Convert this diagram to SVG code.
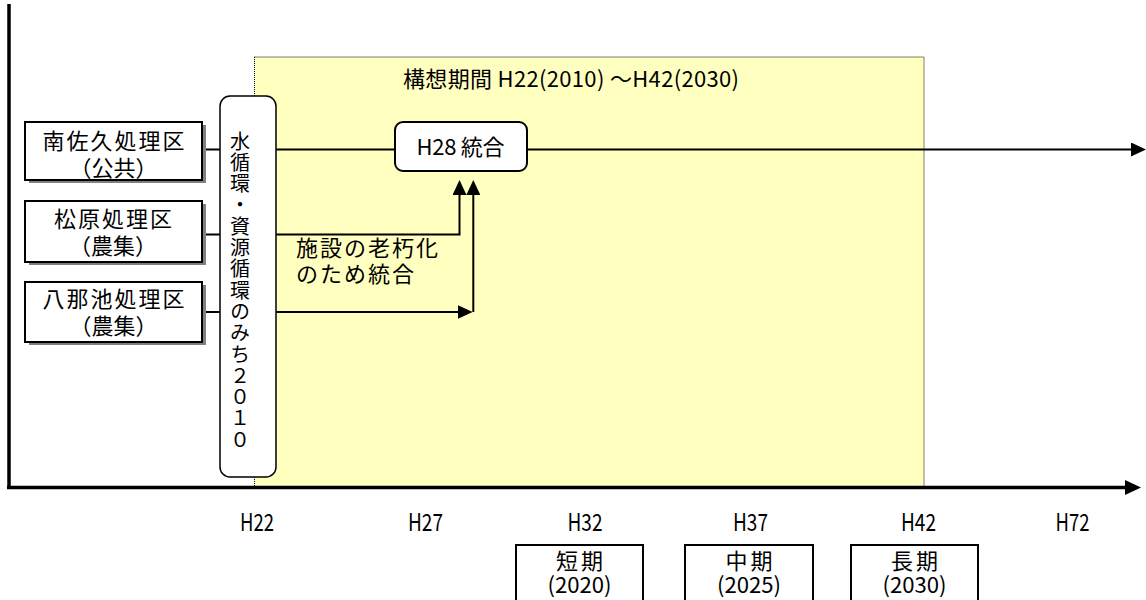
<svg xmlns="http://www.w3.org/2000/svg" width="1146" height="600" viewBox="0 0 1146 600">
<style>
.t{font-family:"Noto Sans CJK JP","Noto Sans",sans-serif;fill:#000}
.box{fill:#fff;stroke:#000;stroke-width:2}
.sh{fill:#808080}
.ln{fill:none;stroke:#000;stroke-width:2}
.big{font-size:22px}
.lab{font-size:24px}
</style>
<defs>
<marker id="ah" markerUnits="userSpaceOnUse" viewBox="0 0 15 14" markerWidth="15" markerHeight="14" refX="9" refY="7" orient="auto"><path d="M0,0 L15,7 L0,14 Z" fill="#000"/></marker>
<marker id="ax" markerUnits="userSpaceOnUse" viewBox="0 0 16 15" markerWidth="16" markerHeight="15" refX="10" refY="7.5" orient="auto"><path d="M0,0 L16,7.5 L0,15 Z" fill="#000"/></marker>
</defs>
<rect width="1146" height="600" fill="#fff"/>
<g id="period">
<rect x="254.5" y="57" width="669.5" height="430" fill="#FFFFC0" stroke="#000" stroke-width="1" stroke-dasharray="1 1"/>
<text class="t big" x="403" y="87" textLength="336">構想期間 H22(2010) ～H42(2030)</text>
</g>
<g id="connectors">
<line x1="9" y1="4" x2="9" y2="489" stroke="#000" stroke-width="3.5"/>
<line x1="7" y1="487.5" x2="1135" y2="487.5" stroke="#000" stroke-width="3.5" marker-end="url(#ax)"/>
<line class="ln" x1="202" y1="149.5" x2="220" y2="149.5"/>
<line class="ln" x1="202" y1="234.5" x2="220" y2="234.5"/>
<line class="ln" x1="202" y1="312" x2="220" y2="312"/>
<line class="ln" x1="276" y1="149.5" x2="395" y2="149.5"/>
<line class="ln" x1="527" y1="149.5" x2="1140" y2="149.5" marker-end="url(#ah)"/>
<path class="ln" d="M276,234.5 H459.5 V186" marker-end="url(#ah)"/>
<path class="ln" d="M276,312 H466.7" marker-end="url(#ah)"/>
<path class="ln" d="M473.3,312 V186" marker-end="url(#ah)"/>
</g>
<g id="minamisaku">
<rect class="sh" x="29" y="125" width="177" height="58"/>
<rect class="box" x="25" y="122" width="177" height="58"/>
<text class="t big" text-anchor="middle"><tspan x="113.5" y="148.5" textLength="142">南佐久処理区</tspan><tspan x="113.5" y="175.5">（公共）</tspan></text>
</g>
<g id="matsubara">
<rect class="sh" x="29" y="204" width="177" height="61"/>
<rect class="box" x="25" y="201" width="177" height="61"/>
<text class="t big" text-anchor="middle"><tspan x="113" y="227" textLength="118">松原処理区</tspan><tspan x="113" y="253.5">（農集）</tspan></text>
</g>
<g id="yachiike">
<rect class="sh" x="29" y="285" width="177" height="60"/>
<rect class="box" x="25" y="282" width="177" height="60"/>
<text class="t big" text-anchor="middle"><tspan x="113.5" y="306.5" textLength="142">八那池処理区</tspan><tspan x="113.5" y="333.5">（農集）</tspan></text>
</g>
<g id="plan2010">
<rect x="220" y="96" width="56" height="381" rx="10" fill="#fff" stroke="#000" stroke-width="1.5"/>
<text class="t" font-size="20" x="240" y="131" writing-mode="vertical-rl" letter-spacing="1.3">水循環・資源循環のみち２０１０</text>
</g>
<g id="h28">
<rect x="395" y="122" width="132" height="49" rx="8" fill="#fff" stroke="#000" stroke-width="2"/>
<text class="t big" x="460.5" y="155" text-anchor="middle" textLength="88">H28 統合</text>
</g>
<g id="note">
<text class="t big"><tspan x="296" y="255.5" textLength="142">施設の老朽化</tspan><tspan x="296" y="281.5" textLength="118">のため統合</tspan></text>
</g>
<g id="ticks">
<text class="t lab" x="257" y="531" text-anchor="middle" textLength="34" lengthAdjust="spacingAndGlyphs">H22</text>
<text class="t lab" x="425.5" y="531" text-anchor="middle" textLength="35" lengthAdjust="spacingAndGlyphs">H27</text>
<text class="t lab" x="585" y="531" text-anchor="middle" textLength="35" lengthAdjust="spacingAndGlyphs">H32</text>
<text class="t lab" x="750.5" y="531" text-anchor="middle" textLength="35" lengthAdjust="spacingAndGlyphs">H37</text>
<text class="t lab" x="918.5" y="531" text-anchor="middle" textLength="35" lengthAdjust="spacingAndGlyphs">H42</text>
<text class="t lab" x="1072.5" y="531" text-anchor="middle" textLength="34" lengthAdjust="spacingAndGlyphs">H72</text>
</g>
<g id="short">
<rect class="box" x="516" y="545" width="127" height="70"/>
<text class="t big" text-anchor="middle"><tspan x="579.5" y="568.5" textLength="47">短期</tspan><tspan x="579.5" y="593" textLength="64" lengthAdjust="spacingAndGlyphs">(2020)</tspan></text>
</g>
<g id="mid">
<rect class="box" x="685" y="545" width="128" height="70"/>
<text class="t big" text-anchor="middle"><tspan x="749" y="568.5" textLength="47">中期</tspan><tspan x="749" y="593" textLength="64" lengthAdjust="spacingAndGlyphs">(2025)</tspan></text>
</g>
<g id="long">
<rect class="box" x="851" y="545" width="127" height="70"/>
<text class="t big" text-anchor="middle"><tspan x="914.5" y="568.5" textLength="47">長期</tspan><tspan x="914.5" y="593" textLength="64" lengthAdjust="spacingAndGlyphs">(2030)</tspan></text>
</g>
</svg>
